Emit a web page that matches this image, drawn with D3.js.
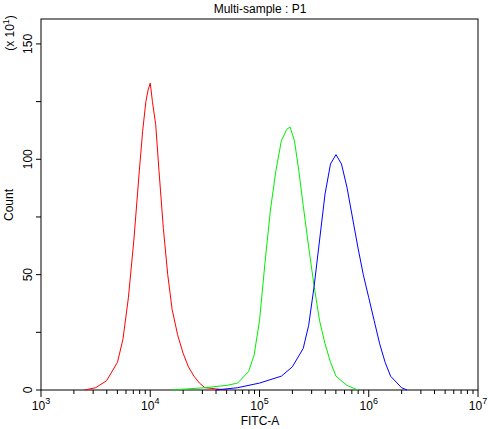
<!DOCTYPE html><html><head><script src="https://d3js.org/d3.v7.min.js"></script>
<style>body{margin:0;background:#fff}text{font-family:"Liberation Sans",Arial,sans-serif;font-size:12px}</style></head><body>
<script>
const xTickExps=[3,4,5,6,7];
const yTickLabels=[0,50,100,150];
const redLog=[3.40,3.5,3.6,3.7,3.75,3.8,3.85,3.9,3.93,3.96,3.98,4.0,4.02,4.05,4.08,4.12,4.16,4.2,4.25,4.3,4.35,4.4,4.45,4.5,4.6,4.7];
const redCount=[0,1,4,12,22,40,65,95,112,125,130,133,125,115,95,70,50,35,24,16,10,6,3,1,0.5,0];
const greenLog=[4.2,4.5,4.7,4.8,4.9,4.95,5.0,5.05,5.1,5.15,5.2,5.25,5.28,5.32,5.36,5.4,5.45,5.5,5.55,5.6,5.65,5.7,5.8,5.9];
const greenCount=[0,1,2,3,8,15,30,55,78,95,108,113,114,108,95,80,62,45,30,20,12,6,2,0];
const blueLog=[4.6,4.8,5.0,5.2,5.3,5.4,5.45,5.5,5.55,5.6,5.65,5.7,5.75,5.8,5.85,5.9,5.95,6.0,6.05,6.1,6.15,6.2,6.3,6.35];
const blueCount=[0,1,3,6,10,18,28,45,65,85,98,102,98,88,75,62,50,40,30,20,12,6,1,0];
const series=[{c:"#ff0000",x:redLog,y:redCount},{c:"#00ee00",x:greenLog,y:greenCount},{c:"#0000ff",x:blueLog,y:blueCount}];
const L=41,R=478,T=19,B=390;
const svg=d3.select("body").append("svg").attr("width",488).attr("height",429);
const x=d3.scaleLinear().domain([3,7]).range([L,R]);
const y=d3.scaleLinear().domain([0,160.8]).range([B,T]);
svg.append("rect").attr("x",L).attr("y",T).attr("width",R-L).attr("height",B-T).attr("fill","none").attr("stroke","#000");
const g=svg.append("g");
xTickExps.forEach(e=>{
  g.append("line").attr("x1",x(e)).attr("x2",x(e)).attr("y1",B).attr("y2",B+7).attr("stroke","#000");
  const t=g.append("text").attr("x",x(e)).attr("y",B+20).attr("text-anchor","middle");
  t.append("tspan").text("10");t.append("tspan").attr("dy",-6).attr("font-size","9px").text(e);
  if(e<7) for(let m=2;m<10;m++){const xv=x(e+Math.log10(m));g.append("line").attr("x1",xv).attr("x2",xv).attr("y1",B).attr("y2",B+4).attr("stroke","#000");}
});
for(let v=0;v<=150;v+=25){
  g.append("line").attr("x1",L-5).attr("x2",L).attr("y1",y(v)).attr("y2",y(v)).attr("stroke","#000");
}
yTickLabels.forEach(v=>{
  g.append("text").attr("transform",`translate(${L-9},${y(v)}) rotate(-90)`).attr("text-anchor","middle").text(v);
});
svg.append("text").attr("x",260).attr("y",13).attr("text-anchor","middle").text("Multi-sample : P1");
svg.append("text").attr("x",260).attr("y",425).attr("text-anchor","middle").text("FITC-A");
svg.append("text").attr("transform","translate(13,205) rotate(-90)").attr("text-anchor","middle").text("Count");
const lab=svg.append("text").attr("transform","translate(14,33) rotate(-90)").attr("text-anchor","middle");
lab.append("tspan").text("(x 10");lab.append("tspan").attr("dy",-5).attr("font-size","9px").text("1");lab.append("tspan").attr("dy",5).text(")");
const line=d3.line().x(d=>x(d[0])).y(d=>y(d[1]));
series.forEach(s=>{
  svg.append("path").attr("d",line(s.x.map((v,i)=>[v,s.y[i]]))).attr("fill","none").attr("stroke",s.c).attr("stroke-width",1);
});
</script></body></html>
